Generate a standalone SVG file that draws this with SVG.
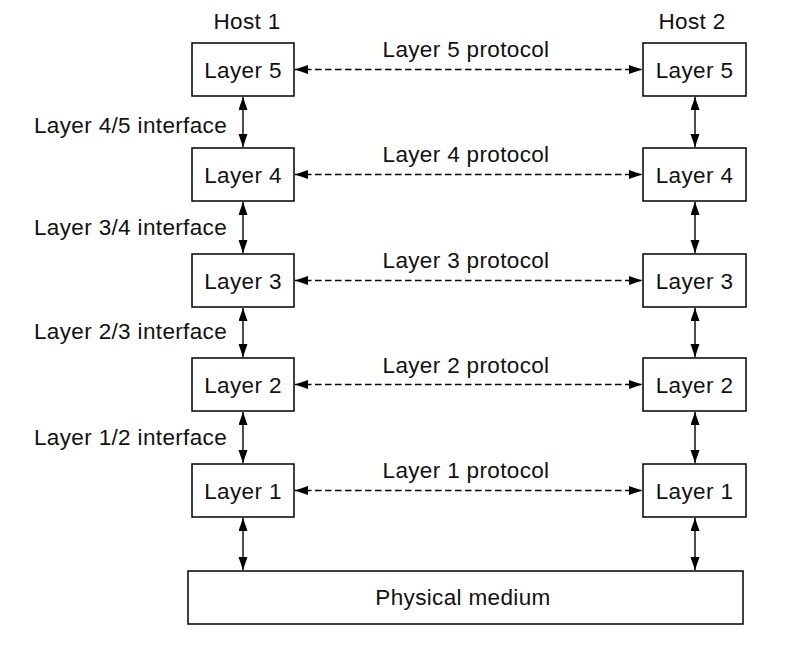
<svg xmlns="http://www.w3.org/2000/svg" width="798" height="650" viewBox="0 0 798 650">
<defs>
<style>
text{font-family:"Liberation Sans",Arial,sans-serif;font-size:22.5px;letter-spacing:0.35px;fill:#111}
.box{fill:#fff;stroke:#000;stroke-width:1.5}
.c{text-anchor:middle}
.v{stroke:#000;stroke-width:1.4;fill:none;marker-start:url(#ah);marker-end:url(#ah)}
.d{stroke:#000;stroke-width:1.3;fill:none;stroke-dasharray:6.5 3.5;marker-start:url(#ah);marker-end:url(#ah)}
</style>
<marker id="ah" markerUnits="userSpaceOnUse" markerWidth="14" markerHeight="10" refX="13" refY="4.5" orient="auto-start-reverse">
<path d="M0,0 L13,4.5 L0,9 z" fill="#000"/>
</marker>
</defs>
<rect width="798" height="650" fill="#fff"/>
<text class="c" x="247" y="29">Host 1</text>
<text class="c" x="692" y="29">Host 2</text>
<g id="h1l5"><rect class="box" x="192" y="43" width="102" height="53"/><text class="c" x="243" y="78">Layer 5</text></g>
<g id="h1l4"><rect class="box" x="192" y="148" width="102" height="53"/><text class="c" x="243" y="183">Layer 4</text></g>
<g id="h1l3"><rect class="box" x="192" y="254" width="102" height="53"/><text class="c" x="243" y="289">Layer 3</text></g>
<g id="h1l2"><rect class="box" x="192" y="358" width="102" height="53"/><text class="c" x="243" y="393">Layer 2</text></g>
<g id="h1l1"><rect class="box" x="192" y="464" width="102" height="53"/><text class="c" x="243" y="499">Layer 1</text></g>
<g id="h2l5"><rect class="box" x="643" y="43" width="103" height="53"/><text class="c" x="694.5" y="78">Layer 5</text></g>
<g id="h2l4"><rect class="box" x="643" y="148" width="103" height="53"/><text class="c" x="694.5" y="183">Layer 4</text></g>
<g id="h2l3"><rect class="box" x="643" y="254" width="103" height="53"/><text class="c" x="694.5" y="289">Layer 3</text></g>
<g id="h2l2"><rect class="box" x="643" y="358" width="103" height="53"/><text class="c" x="694.5" y="393">Layer 2</text></g>
<g id="h2l1"><rect class="box" x="643" y="464" width="103" height="53"/><text class="c" x="694.5" y="499">Layer 1</text></g>
<g id="phys"><rect class="box" x="188" y="571" width="555" height="53"/><text class="c" x="463" y="605">Physical medium</text></g>
<g id="labels">
<text x="34" y="133">Layer 4/5 interface</text>
<text x="34" y="235">Layer 3/4 interface</text>
<text x="34" y="339">Layer 2/3 interface</text>
<text x="34" y="445">Layer 1/2 interface</text>
<text class="c" x="466" y="57">Layer 5 protocol</text>
<text class="c" x="466" y="162">Layer 4 protocol</text>
<text class="c" x="466" y="268">Layer 3 protocol</text>
<text class="c" x="466" y="373">Layer 2 protocol</text>
<text class="c" x="466" y="478">Layer 1 protocol</text>
</g>
<g id="connectors">
<line class="v" x1="243" y1="97" x2="243" y2="147"/>
<line class="v" x1="243" y1="202" x2="243" y2="253"/>
<line class="v" x1="243" y1="308" x2="243" y2="357"/>
<line class="v" x1="243" y1="412" x2="243" y2="463"/>
<line class="v" x1="243" y1="518" x2="243" y2="570"/>
<line class="v" x1="695" y1="97" x2="695" y2="147"/>
<line class="v" x1="695" y1="202" x2="695" y2="253"/>
<line class="v" x1="695" y1="308" x2="695" y2="357"/>
<line class="v" x1="695" y1="412" x2="695" y2="463"/>
<line class="v" x1="695" y1="518" x2="695" y2="570"/>
<line class="d" x1="295" y1="69.5" x2="642" y2="69.5"/>
<line class="d" x1="295" y1="174.5" x2="642" y2="174.5"/>
<line class="d" x1="295" y1="280.5" x2="642" y2="280.5"/>
<line class="d" x1="295" y1="384.5" x2="642" y2="384.5"/>
<line class="d" x1="295" y1="490.5" x2="642" y2="490.5"/>
</g>
</svg>
